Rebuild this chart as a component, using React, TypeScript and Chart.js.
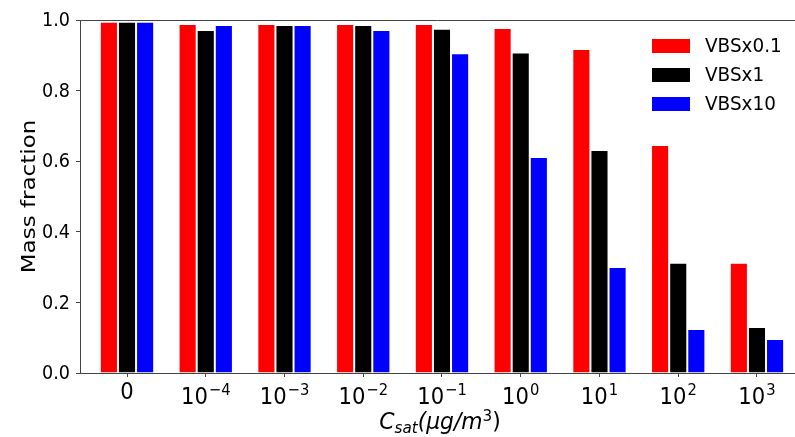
import React, { useEffect, useRef } from "react";
import { Chart, registerables } from "chart.js";

Chart.register(...registerables);

// tick labels: base^exponent ("" exponent => plain text)
const categoryBases = ["0", "10", "10", "10", "10", "10", "10", "10", "10"];
const categoryExponents = ["", "−4", "−3", "−2", "−1", "0", "1", "2", "3"];
const vbs01 = [0.995, 0.989, 0.989, 0.989, 0.989, 0.977, 0.918, 0.646, 0.312];
const vbs1 = [0.995, 0.972, 0.986, 0.986, 0.975, 0.908, 0.632, 0.312, 0.130];
const vbs10 = [0.995, 0.986, 0.986, 0.972, 0.906, 0.612, 0.300, 0.125, 0.096];
const seriesNames = ["VBSx0.1", "VBSx1", "VBSx10"];
const seriesColors = ["#ff0000", "#000000", "#0000ff"];
const yTicks = [0, 0.2, 0.4, 0.6, 0.8, 1.0];
const yLabel = "Mass fraction";

const FONT = "DejaVu Sans";
const SQ = 0.88; // horizontal squeeze of the reference text

function drawSqueezed(ctx: any, text: string, x: number, y: number, font: string, align: string, sq = SQ) {
  ctx.save();
  ctx.font = font;
  ctx.translate(x, y);
  ctx.scale(sq, 1);
  ctx.textAlign = align;
  ctx.fillText(text, 0, 0);
  ctx.restore();
}

const decor = {
  id: "decor",
  afterDraw(chart: any) {
    const { ctx, chartArea } = chart;
    const { left, right, top, bottom } = chartArea;
    ctx.save();
    ctx.fillStyle = "#000";
    // top spine
    ctx.strokeStyle = "#444";
    ctx.lineWidth = 1;
    ctx.beginPath();
    ctx.moveTo(left, top + 0.5);
    ctx.lineTo(right, top + 0.5);
    ctx.stroke();

    // y tick labels
    const ys = chart.scales.y;
    ctx.textBaseline = "middle";
    yTicks.forEach((v) => {
      drawSqueezed(ctx, v.toFixed(1), 70, ys.getPixelForValue(v) + 1, `20px "${FONT}"`, "right");
    });

    // x tick labels
    const xs = chart.scales.x;
    ctx.textBaseline = "alphabetic";
    const xsq = 0.92;
    categoryBases.forEach((base, i) => {
      const px = xs.getPixelForValue(i);
      const exp = categoryExponents[i];
      const baseFont = `23px "${FONT}"`;
      const expFont = `16px "${FONT}"`;
      if (!exp) {
        drawSqueezed(ctx, base, px, 399, baseFont, "center", xsq);
        return;
      }
      ctx.font = baseFont;
      const wb = ctx.measureText(base).width * xsq;
      ctx.font = expFont;
      const we = ctx.measureText(exp).width * xsq;
      const x0 = px - (wb + we + 1) / 2;
      drawSqueezed(ctx, base, x0, 404, baseFont, "left", xsq);
      drawSqueezed(ctx, exp, x0 + wb + 1, 395, expFont, "left", xsq);
    });

    // y title
    ctx.save();
    ctx.translate(30, (top + bottom) / 2);
    ctx.scale(0.85, 1);
    ctx.rotate(-Math.PI / 2);
    ctx.font = `23px "${FONT}"`;
    ctx.textAlign = "center";
    ctx.textBaseline = "middle";
    ctx.fillText(yLabel, 0, 0);
    ctx.restore();

    // x title: C_sat(μg/m³)
    const parts = [
      { t: "C", f: `italic 23px "${FONT}"`, dy: 0 },
      { t: "sat", f: `italic 16px "${FONT}"`, dy: 4 },
      { t: "(μg/m", f: `italic 23px "${FONT}"`, dy: 0 },
      { t: "3", f: `16px "${FONT}"`, dy: -8 },
      { t: ")", f: `23px "${FONT}"`, dy: 0 },
    ];
    const tsq = 0.95;
    let total = 0;
    for (const p of parts) {
      ctx.font = p.f;
      total += ctx.measureText(p.t).width * tsq;
    }
    let x = 440 - total / 2;
    const baseY = 429;
    ctx.textBaseline = "alphabetic";
    for (const p of parts) {
      drawSqueezed(ctx, p.t, x, baseY + p.dy, p.f, "left", tsq);
      ctx.font = p.f;
      x += ctx.measureText(p.t).width * tsq;
    }

    // legend
    ctx.textBaseline = "middle";
    seriesNames.forEach((name, i) => {
      const cy = 46 + i * 29;
      ctx.fillStyle = seriesColors[i];
      ctx.fillRect(652, cy - 7, 38, 14);
      ctx.fillStyle = "#000";
      drawSqueezed(ctx, name, 705, cy + 1, `20px "${FONT}"`, "left", 0.92);
    });
    ctx.restore();
  },
};

export default function App() {
  const ref = useRef<HTMLCanvasElement | null>(null);
  useEffect(() => {
    document.body.style.margin = "0";
    const series = [vbs01, vbs1, vbs10];
    const chart = new Chart(ref.current!, {
      type: "bar",
      data: {
        datasets: series.map((vals, si) => ({
          label: seriesNames[si],
          data: vals.map((v, i) => ({ x: i, y: v })),
          backgroundColor: seriesColors[si],
          borderColor: "rgba(255,255,255,0.55)",
          borderWidth: 1,
          categoryPercentage: 0.69,
          barPercentage: 1.0,
        })),
      },
      options: {
        responsive: false,
        animation: false,
        layout: { padding: { left: 0, top: 20, right: 0, bottom: 0 } },
        plugins: { legend: { display: false }, tooltip: { enabled: false } },
        scales: {
          x: {
            type: "linear",
            offset: false,
            min: -0.597,
            max: 8.483,
            afterBuildTicks: (scale: any) => {
              scale.ticks = categoryBases.map((_, i) => ({ value: i }));
            },
            afterFit: (scale: any) => {
              scale.height = 64;
            },
            ticks: { display: false },
            grid: {
              display: true,
              offset: false,
              drawOnChartArea: false,
              tickLength: 4,
              tickColor: "#444",
            },
            border: { display: true, color: "#444", width: 1 },
          },
          y: {
            min: 0,
            max: 1,
            afterBuildTicks: (scale: any) => {
              scale.ticks = yTicks.map((v) => ({ value: v }));
            },
            afterFit: (scale: any) => {
              scale.width = 80;
            },
            ticks: { display: false },
            grid: {
              display: true,
              drawOnChartArea: false,
              tickLength: 4,
              tickColor: "#444",
            },
            border: { display: true, color: "#444", width: 1 },
          },
        },
      },
      plugins: [decor],
    });
    return () => chart.destroy();
  }, []);
  return (
    <div style={{ width: 795, height: 437 }}>
      <canvas ref={ref} width={795} height={437} style={{ display: "block" }} />
    </div>
  );
}
